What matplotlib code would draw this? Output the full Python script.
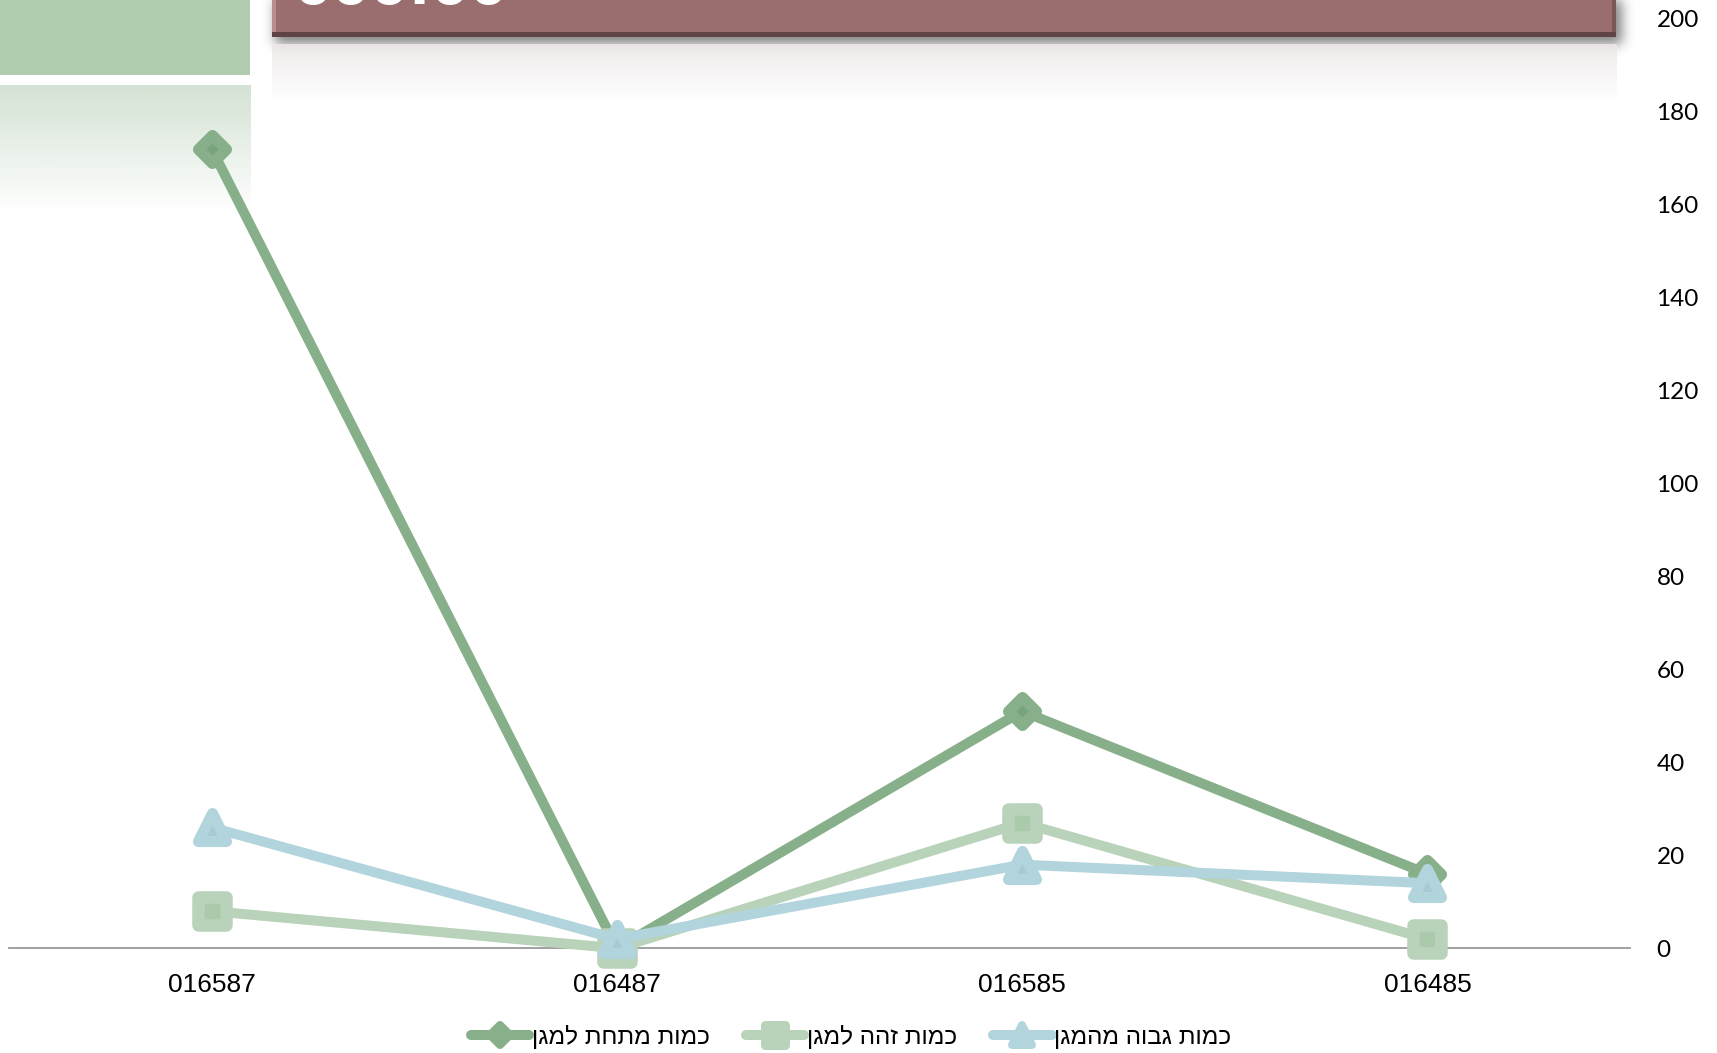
import matplotlib
matplotlib.use("Agg")
import matplotlib.pyplot as plt
import numpy as np
from matplotlib.lines import Line2D
from matplotlib.markers import MarkerStyle
from matplotlib.patches import Rectangle

W, H = 1717, 1053

# values per part number
categories = ["016587", "016487", "016585", "016485"]
below_shield = [172, 0, 51, 16]
same_as_shield = [8, 0, 27, 2]
above_shield = [26, 2, 18, 14]
series_names = ["כמות מתחת למגן", "כמות זהה למגן", "כמות גבוה מהמגן"]
y_ticks = [0, 20, 40, 60, 80, 100, 120, 140, 160, 180, 200]
title_text = "000:00"

# line colour, marker fill, marker, size, edge width
STYLES = [
    ("#87B08A", "#78A47D", "D", 14, 8),
    ("#B9D3BA", "#ABCAAC", "s", 20, 9),
    ("#B2D4DD", "#A6CBD5", "^", 20, 8),
]

LABEL_FONT = ["Liberation Sans", "DejaVu Sans"]
NUM_FONT = ["Lato", "DejaVu Sans"]


def heb(s):
    # matplotlib has no bidi support, so feed Hebrew in visual order
    return s[::-1]


def blur(a, sigma):
    r = int(3 * sigma)
    k = np.exp(-0.5 * (np.arange(-r, r + 1) / sigma) ** 2)
    k /= k.sum()
    a = np.apply_along_axis(lambda v: np.convolve(v, k, mode="same"), 0, a)
    return np.apply_along_axis(lambda v: np.convolve(v, k, mode="same"), 1, a)


def draw_background(bg):
    bg.set_xlim(0, W)
    bg.set_ylim(H, 0)
    bg.axis("off")

    # green corner blocks
    bg.add_patch(Rectangle((0, 0), 250, 74.5, color="#AFCBB0", lw=0))
    grad = np.zeros((64, 1, 4))
    grad[..., :3] = np.array([0.80, 0.87, 0.80])
    grad[:, 0, 3] = np.linspace(0.85, 0.0, 64)
    bg.imshow(grad, extent=(0, 250, 214, 85), aspect="auto", interpolation="bilinear")

    # title bar: shadow, faint reflection, box with bevel
    x0, x1, y1 = 272, 1616, 37
    sx0, sy1 = 230, 140
    ys, xs = np.mgrid[0:sy1, sx0:1680]
    mask = ((xs >= x0 + 3) & (xs <= x1 + 4) & (ys <= y1 + 6)).astype(float)
    sh = blur(mask, 6.0)
    shadow = np.zeros(sh.shape + (4,))
    shadow[..., :3] = 0.25
    shadow[..., 3] = 0.65 * sh
    bg.imshow(shadow, extent=(sx0, 1680, sy1, 0), aspect="auto", interpolation="bilinear")

    refl = np.zeros((64, 1, 4))
    refl[..., :3] = np.array([0.93, 0.91, 0.91])
    refl[:, 0, 3] = np.linspace(0.9, 0.0, 64)
    bg.imshow(refl, extent=(x0, x1, 102, 44), aspect="auto", interpolation="bilinear")

    bg.add_patch(Rectangle((x0, -10), x1 - x0, y1 + 10, color="#9A6E6E", lw=0))
    bg.add_patch(Rectangle((x0, -10), 4, y1 + 10, color="#B68E8E", lw=0))
    bg.add_patch(Rectangle((x1 - 4, -10), 4, y1 + 10, color="#7A5858", lw=0))
    bg.add_patch(Rectangle((x0, y1 - 5), x1 - x0, 5, color="#5E4444", lw=0))
    bg.text(293, 4, title_text, color="white", fontsize=40, fontweight="bold",
            family="DejaVu Sans", va="baseline", ha="left")
    bg.set_xlim(0, W)
    bg.set_ylim(H, 0)


def main():
    fig = plt.figure(figsize=(W / 100, H / 100), dpi=100)
    bg = fig.add_axes([0, 0, 1, 1], zorder=0)
    draw_background(bg)

    ax = fig.add_axes([9 / W, (H - 948.3) / H, (1630 - 9) / W, (948.3 - 18.6) / H], zorder=2)
    ax.patch.set_alpha(0)
    x = np.arange(len(categories))
    handles = []
    for vals, (lc, fc, mk, ms, mew) in zip([below_shield, same_as_shield, above_shield], STYLES):
        ax.plot(x, vals, color=lc, lw=7.2, solid_joinstyle="round", solid_capstyle="round",
                marker=MarkerStyle(mk, joinstyle="round"), ms=ms, mew=mew, mec=lc, mfc=fc,
                zorder=3, clip_on=False)
        handles.append(Line2D([], [], color=lc, lw=7.2, solid_capstyle="round",
                              marker=MarkerStyle(mk, joinstyle="round"), ms=ms * 0.72,
                              mew=mew * 0.72, mec=lc, mfc=lc))

    ax.set_xlim(-0.5, len(categories) - 0.5)
    ax.set_ylim(0, 200)
    ax.set_xticks(x)
    ax.set_xticklabels(categories)
    ax.set_yticks(y_ticks)
    ax.yaxis.tick_right()
    ax.tick_params(axis="y", length=0, pad=19, labelsize=17.5)
    ax.tick_params(axis="x", length=0, pad=17.5, labelsize=19)
    for lab in ax.get_xticklabels():
        lab.set_family(LABEL_FONT)
    for lab in ax.get_yticklabels():
        lab.set_family(NUM_FONT)
    for side in ("top", "left", "right"):
        ax.spines[side].set_visible(False)
    ax.spines["bottom"].set_color("#999999")
    ax.spines["bottom"].set_linewidth(1.3)

    fig.legend(handles, [heb(s) for s in series_names], loc="center",
               bbox_to_anchor=(851 / W, 1 - 1037 / H), ncol=3, frameon=False,
               prop={"family": LABEL_FONT, "size": 17.5}, handlelength=2.4,
               handletextpad=0.1, columnspacing=1.5, numpoints=1)

    fig.savefig("out.png", dpi=100)


if __name__ == "__main__":
    main()
